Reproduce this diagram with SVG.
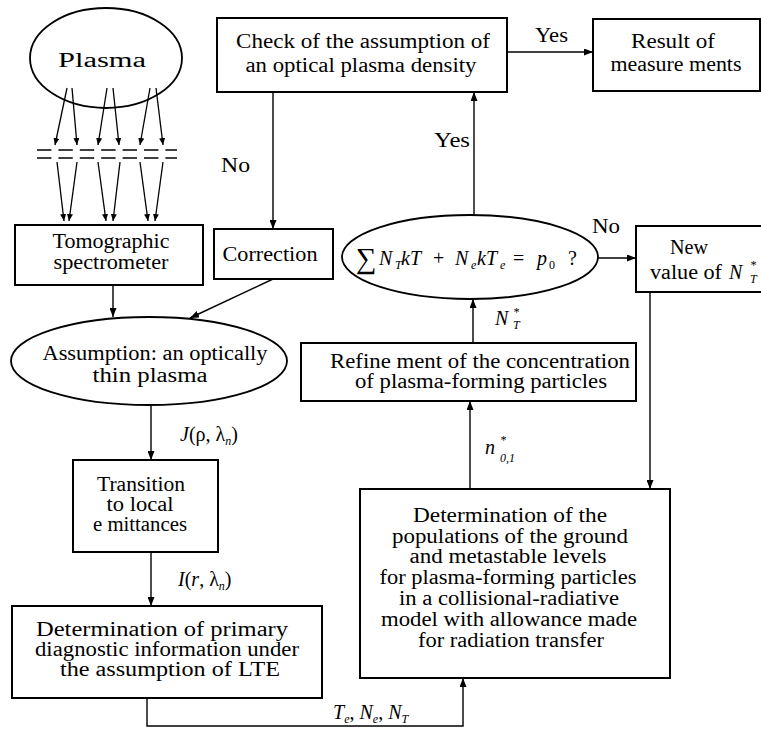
<svg xmlns="http://www.w3.org/2000/svg" width="761" height="732" viewBox="0 0 761 732">
<defs>
<style>
.box{fill:none;stroke:#000;stroke-width:2}
.ell{fill:none;stroke:#000;stroke-width:1.8}
.c{fill:none;stroke:#000;stroke-width:1.4}
.cs{fill:none;stroke:#000;stroke-width:1.3}
.dash{fill:none;stroke:#000;stroke-width:1.3;stroke-dasharray:14.4 7}
.t{font-family:"Liberation Serif","DejaVu Serif","Times New Roman",serif;font-size:20px;fill:#000;text-anchor:middle}
.s{text-anchor:start}
.i{font-style:italic}
.n{font-style:normal}
.sm{font-size:12px}
</style>
<marker id="ah" markerUnits="userSpaceOnUse" markerWidth="10" markerHeight="7" refX="9" refY="3.5" orient="auto">
<path d="M0,0 L9,3.5 L0,7 z" fill="#000"/>
</marker>
<marker id="ahs" markerUnits="userSpaceOnUse" markerWidth="8" markerHeight="6" refX="7" refY="3" orient="auto">
<path d="M0,0 L7,3 L0,6 z" fill="#000"/>
</marker>
</defs>
<rect width="761" height="732" fill="#fff"/>

<g id="connectors">
<g id="rays">
<line class="cs" x1="67" y1="88" x2="55" y2="145" marker-end="url(#ahs)"/>
<line class="cs" x1="72" y1="88" x2="77" y2="145" marker-end="url(#ahs)"/>
<line class="cs" x1="107" y1="88" x2="98" y2="145" marker-end="url(#ahs)"/>
<line class="cs" x1="113" y1="88" x2="119" y2="145" marker-end="url(#ahs)"/>
<line class="cs" x1="150" y1="88" x2="140" y2="145" marker-end="url(#ahs)"/>
<line class="cs" x1="156" y1="88" x2="163" y2="145" marker-end="url(#ahs)"/>
<line class="dash" x1="37" y1="150" x2="177" y2="150"/>
<line class="dash" x1="37" y1="158" x2="177" y2="158"/>
<line class="cs" x1="57" y1="162" x2="64" y2="221" marker-end="url(#ahs)"/>
<line class="cs" x1="77" y1="162" x2="69" y2="221" marker-end="url(#ahs)"/>
<line class="cs" x1="98" y1="162" x2="106" y2="221" marker-end="url(#ahs)"/>
<line class="cs" x1="120" y1="162" x2="113" y2="221" marker-end="url(#ahs)"/>
<line class="cs" x1="140" y1="162" x2="148" y2="221" marker-end="url(#ahs)"/>
<line class="cs" x1="163" y1="162" x2="155" y2="221" marker-end="url(#ahs)"/>
</g>
<line class="c" x1="113" y1="285" x2="113" y2="317" marker-end="url(#ah)"/>
<line class="c" x1="273" y1="279" x2="190" y2="318" marker-end="url(#ah)"/>
<line class="c" x1="273" y1="92" x2="273" y2="229" marker-end="url(#ah)"/>
<line class="c" x1="507" y1="52" x2="593" y2="52" marker-end="url(#ah)"/>
<line class="c" x1="474" y1="215" x2="474" y2="92" marker-end="url(#ah)"/>
<line class="c" x1="598" y1="258" x2="636" y2="258" marker-end="url(#ah)"/>
<line class="c" x1="650" y1="292" x2="650" y2="489" marker-end="url(#ah)"/>
<line class="c" x1="473" y1="343" x2="473" y2="299" marker-end="url(#ah)"/>
<line class="c" x1="470" y1="489" x2="470" y2="401" marker-end="url(#ah)"/>
<line class="c" x1="151" y1="405" x2="151" y2="460" marker-end="url(#ah)"/>
<line class="c" x1="151" y1="552" x2="151" y2="606" marker-end="url(#ah)"/>
<polyline class="c" points="147,698 147,726 463,726 463,678" marker-end="url(#ah)"/>
</g>

<g id="labels">
<text class="t s" x="535" y="42" font-size="21" textLength="33" lengthAdjust="spacingAndGlyphs">Yes</text>
<text class="t s" x="221" y="172" font-size="21" textLength="29" lengthAdjust="spacingAndGlyphs">No</text>
<text class="t s" x="434" y="147" font-size="21" textLength="36" lengthAdjust="spacingAndGlyphs">Yes</text>
<text class="t s" x="592" y="233" font-size="21" textLength="28" lengthAdjust="spacingAndGlyphs">No</text>
<text class="t s i" x="495" y="325" font-size="21">N<tspan class="sm" x="513" y="316">*</tspan><tspan class="sm" x="513" y="329">T</tspan></text>
<text class="t s i" x="485" y="454" font-size="21">n<tspan class="sm" x="500" y="444">*</tspan><tspan class="sm" x="500" y="462" font-size="10">0,1</tspan></text>
<text class="t s i" x="180" y="441" font-size="21">J<tspan class="n">(ρ, λ</tspan><tspan class="sm" dy="4">n</tspan><tspan class="n" dy="-4">)</tspan></text>
<text class="t s i" x="178" y="586" font-size="21">I<tspan class="n">(</tspan>r<tspan class="n">, λ</tspan><tspan class="sm" dy="4">n</tspan><tspan class="n" dy="-4">)</tspan></text>
<text class="t s i" x="333" y="719" font-size="21">T<tspan class="sm" dy="4">e</tspan><tspan class="n" dy="-4">, </tspan>N<tspan class="sm" dy="4">e</tspan><tspan class="n" dy="-4">, </tspan>N<tspan class="sm" dy="4">T</tspan></text>
</g>

<g id="plasma">
<ellipse class="ell" cx="106" cy="58" rx="76" ry="50"/>
<text class="t" x="102" y="67" font-size="30" textLength="88" lengthAdjust="spacingAndGlyphs">Plasma</text>
</g>

<g id="tomographic">
<rect class="box" x="15" y="225" width="188" height="60"/>
<text class="t" x="111" y="248" textLength="117" lengthAdjust="spacingAndGlyphs">Tomographic</text>
<text class="t" x="111" y="269" textLength="115" lengthAdjust="spacingAndGlyphs">spectrometer</text>
</g>

<g id="correction">
<rect class="box" x="214" y="229" width="119" height="50"/>
<text class="t" x="270" y="261" font-size="21" textLength="95" lengthAdjust="spacingAndGlyphs">Correction</text>
</g>

<g id="check">
<rect class="box" x="217" y="18" width="290" height="74"/>
<text class="t" x="363" y="48" font-size="21" textLength="254" lengthAdjust="spacingAndGlyphs">Check of the assumption of</text>
<text class="t" x="361" y="72" font-size="21" textLength="231" lengthAdjust="spacingAndGlyphs">an optical plasma density</text>
</g>

<g id="result">
<rect class="box" x="593" y="19" width="167" height="72"/>
<text class="t" x="673" y="48" font-size="21" textLength="84" lengthAdjust="spacingAndGlyphs">Result of</text>
<text class="t" x="676" y="71" font-size="21" textLength="131" lengthAdjust="spacingAndGlyphs">measure ments</text>
</g>

<g id="equation">
<ellipse class="ell" cx="470" cy="257" rx="128" ry="42"/>
<text class="t s i" y="265" font-size="22"><tspan class="n" x="356" y="268" font-size="29">∑</tspan><tspan x="379" y="265">N</tspan><tspan class="sm" x="395" y="269">T</tspan><tspan x="401" y="265">kT</tspan><tspan class="n" x="433">+</tspan><tspan x="455">N</tspan><tspan class="sm" x="471" y="269">e</tspan><tspan x="477" y="265">kT</tspan><tspan class="sm" x="500" y="269">e</tspan><tspan class="n" x="513" y="265">=</tspan><tspan x="537">p</tspan><tspan class="sm n" x="549" y="269">0</tspan><tspan class="n" x="568" y="265">?</tspan></text>
</g>

<g id="newvalue">
<rect class="box" x="636" y="226" width="130" height="66"/>
<text class="t s" x="670" y="254" font-size="21" textLength="38" lengthAdjust="spacingAndGlyphs">New</text>
<text class="t s" x="650" y="279" font-size="21"><tspan textLength="72" lengthAdjust="spacingAndGlyphs">value of</tspan><tspan class="i" x="729">N</tspan><tspan class="sm i" x="750" y="269">*</tspan><tspan class="sm i" x="750" y="283">T</tspan></text>
</g>

<g id="assumption">
<ellipse class="ell" cx="149" cy="361" rx="138" ry="44"/>
<text class="t" x="155" y="360" font-size="19.5" textLength="225" lengthAdjust="spacingAndGlyphs">Assumption: an optically</text>
<text class="t" x="150" y="382" font-size="19.5" textLength="115" lengthAdjust="spacingAndGlyphs">thin plasma</text>
</g>

<g id="refinement">
<rect class="box" x="301" y="343" width="335" height="58"/>
<text class="t" x="480" y="368" textLength="300" lengthAdjust="spacingAndGlyphs">Refine ment of the concentration</text>
<text class="t" x="481" y="388" textLength="252" lengthAdjust="spacingAndGlyphs">of plasma-forming particles</text>
</g>

<g id="transition">
<rect class="box" x="73" y="460" width="145" height="92"/>
<text class="t" x="141" y="491" textLength="88" lengthAdjust="spacingAndGlyphs">Transition</text>
<text class="t" x="140" y="511" textLength="67" lengthAdjust="spacingAndGlyphs">to local</text>
<text class="t" x="140" y="531" textLength="94" lengthAdjust="spacingAndGlyphs">e mittances</text>
</g>

<g id="detprimary">
<rect class="box" x="12" y="606" width="310" height="92"/>
<text class="t" x="162" y="636" textLength="252" lengthAdjust="spacingAndGlyphs">Determination of primary</text>
<text class="t" x="167" y="656" textLength="264" lengthAdjust="spacingAndGlyphs">diagnostic information under</text>
<text class="t" x="170" y="676" textLength="220" lengthAdjust="spacingAndGlyphs">the assumption of LTE</text>
</g>

<g id="detpop">
<rect class="box" x="360" y="489" width="310" height="189"/>
<text class="t" x="510" y="522" textLength="194" lengthAdjust="spacingAndGlyphs">Determination of the</text>
<text class="t" x="510" y="543" textLength="236" lengthAdjust="spacingAndGlyphs">populations of the ground</text>
<text class="t" x="508" y="563" textLength="197" lengthAdjust="spacingAndGlyphs">and metastable levels</text>
<text class="t" x="508" y="584" textLength="257" lengthAdjust="spacingAndGlyphs">for plasma-forming particles</text>
<text class="t" x="509" y="605" textLength="220" lengthAdjust="spacingAndGlyphs">in a collisional-radiative</text>
<text class="t" x="509" y="626" textLength="256" lengthAdjust="spacingAndGlyphs">model with allowance made</text>
<text class="t" x="511" y="647" textLength="186" lengthAdjust="spacingAndGlyphs">for radiation transfer</text>
</g>
</svg>
